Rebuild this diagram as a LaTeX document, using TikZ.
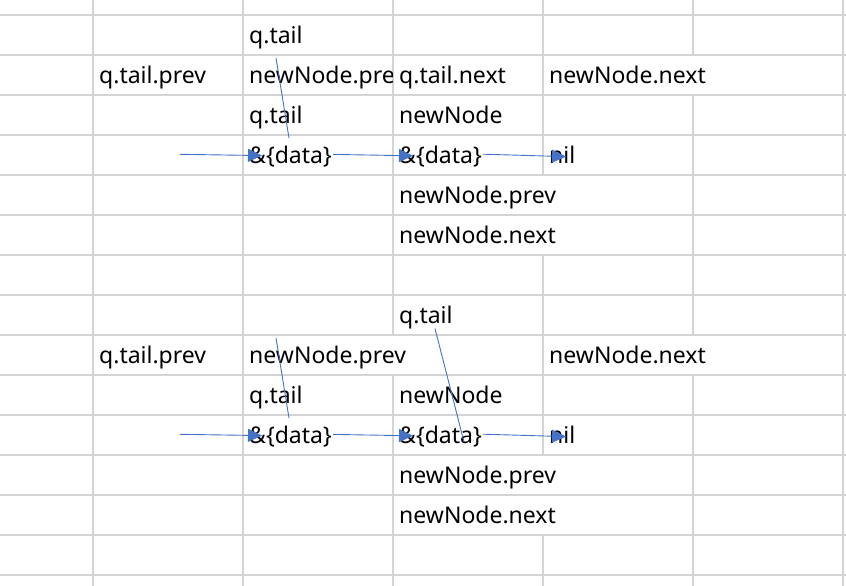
\documentclass[tikz,border=0pt]{standalone}
\usepackage{fontspec}
\setmainfont{Noto Sans}
\usetikzlibrary{arrows.meta}
\definecolor{gridgray}{HTML}{D4D4D4}
\definecolor{linkblue}{HTML}{4472C4}
\begin{document}
\begin{tikzpicture}[x=1pt,y=-1pt,
  cell/.style={anchor=base west, inner sep=0pt, text=black,
    font=\fontsize{23}{26}\selectfont},
  gridline/.style={draw=gridgray, line width=1.6pt},
  link/.style={draw=linkblue, line width=0.9pt},
  pointer/.style={link, -{Triangle[length=14pt,width=13pt]}}]
\useasboundingbox (0,0) rectangle (846,586);
\fill[white] (0,0) rectangle (846,586);

% sheet grid: rows every 40pt, columns every 150pt
\foreach \y in {15,55,...,575} \draw[gridline] (0,\y) -- (846,\y);
\foreach \x in {93,243,843} \draw[gridline] (\x,0) -- (\x,586);
% column borders are left out where a long text runs into the next cell
\draw[gridline] (393,0) -- (393,335) (393,375) -- (393,586);
\draw[gridline] (543,0) -- (543,175) (543,255) -- (543,455) (543,535) -- (543,586);
\draw[gridline] (693,0) -- (693,55) (693,95) -- (693,335) (693,375) -- (693,586);

% ---- first state ----
\node[cell] (tA)     at (249,43.5)  {q.tail};
\node[cell] (tpA)    at (99,83.5)   {q.tail.prev};
\begin{scope}
  \clip (243,55) rectangle (392,95);
  \node[cell] (npA)  at (249,83.5)  {newNode.prev};
\end{scope}
\node[cell] (tnA)    at (399,83.5)  {q.tail.next};
\node[cell] (nnA)    at (549,83.5)  {newNode.next};
\node[cell] (t2A)    at (249,123.5) {q.tail};
\node[cell] (nA)     at (399,123.5) {newNode};
\node[cell] (d1A)    at (249,163.5) {\&\{data\}};
\node[cell] (d2A)    at (399,163.5) {\&\{data\}};
\node[cell] (nilA)   at (549,163.5) {nil};
\node[cell] (nprA)   at (399,203.5) {newNode.prev};
\node[cell] (nnxA)   at (399,243.5) {newNode.next};

\coordinate (inA)  at (180,154.3);
\coordinate (h1A)  at (262,155.6);
\coordinate (s2A)  at (333,154.4);
\coordinate (h2A)  at (413,155.8);
\coordinate (s3A)  at (483,154.2);
\coordinate (h3A)  at (566,156.6);
\coordinate (vtA)  at (276,58);
\coordinate (vbA)  at (289,138);
\draw[pointer] (inA) -- (h1A);
\draw[pointer] (s2A) -- (h2A);
\draw[pointer] (s3A) -- (h3A);
\draw[link] (vtA) -- (vbA);

% ---- second state ----
\node[cell] (tB)     at (399,323.5) {q.tail};
\node[cell] (tpB)    at (99,363.5)  {q.tail.prev};
\node[cell] (npB)    at (249,363.5) {newNode.prev};
\node[cell] (nnB)    at (549,363.5) {newNode.next};
\node[cell] (t2B)    at (249,403.5) {q.tail};
\node[cell] (nB)     at (399,403.5) {newNode};
\node[cell] (d1B)    at (249,443.5) {\&\{data\}};
\node[cell] (d2B)    at (399,443.5) {\&\{data\}};
\node[cell] (nilB)   at (549,443.5) {nil};
\node[cell] (nprB)   at (399,483.5) {newNode.prev};
\node[cell] (nnxB)   at (399,523.5) {newNode.next};

\coordinate (inB)  at (180,434.3);
\coordinate (h1B)  at (262,435.6);
\coordinate (s2B)  at (333,434.4);
\coordinate (h2B)  at (413,435.8);
\coordinate (s3B)  at (483,434.2);
\coordinate (h3B)  at (566,436.6);
\coordinate (vtB)  at (276,338);
\coordinate (vbB)  at (289,418);
\coordinate (qtB)  at (435,328.5);
\coordinate (qbB)  at (464,442);
\draw[pointer] (inB) -- (h1B);
\draw[pointer] (s2B) -- (h2B);
\draw[pointer] (s3B) -- (h3B);
\draw[link] (vtB) -- (vbB);
\draw[link] (qtB) -- (qbB);
\end{tikzpicture}
\end{document}
